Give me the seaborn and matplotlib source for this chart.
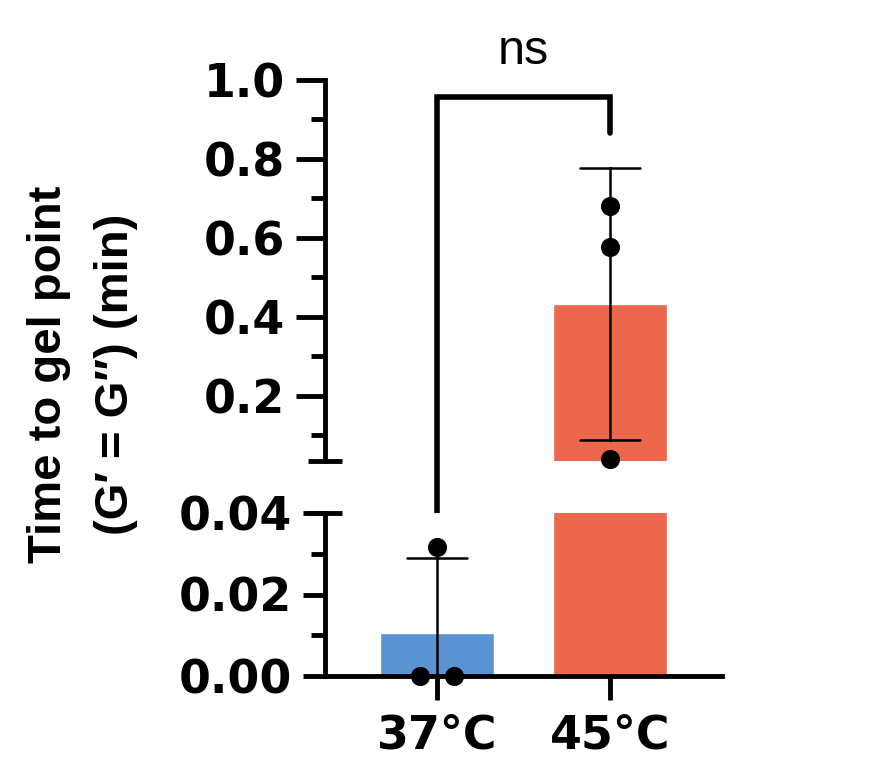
import numpy as np
import pandas as pd
import matplotlib
matplotlib.use("Agg")
import matplotlib.pyplot as plt
import matplotlib.transforms as mtransforms
import seaborn as sns

# data
temps = ["37°C", "45°C"]
gel_37 = [0.0, 0.0, 0.0317]
gel_45 = [0.681, 0.577, 0.040]
bar_colors = ["#5B93D2", "#EC674B"]
upper_ticks = [0.2, 0.4, 0.6, 0.8, 1.0]
upper_minor = [0.1, 0.3, 0.5, 0.7, 0.9]
lower_ticks = [0.00, 0.02, 0.04]
lower_minor = [0.01, 0.03]
sig_label = "ns"
y_label = "Time to gel point\n(G\u2032 = G\u2033) (min)"

# axis break
upper_lim = (0.035, 1.0)
lower_lim = (0.0, 0.04)

df = pd.DataFrame({
    "temp": [temps[0]] * len(gel_37) + [temps[1]] * len(gel_45),
    "time": gel_37 + gel_45,
})

sns.set_style("ticks")
plt.rcParams["font.family"] = ["DejaVu Sans"]
plt.rcParams.update({
    "text.color": "black",
    "axes.edgecolor": "black",
    "axes.labelcolor": "black",
    "xtick.color": "black",
    "ytick.color": "black",
})

W, H = 871, 771
fig = plt.figure(figsize=(W / 100, H / 100), dpi=100)


def box(l, t, r, b):
    return [l / W, 1 - b / H, (r - l) / W, (b - t) / H]


ax_top = fig.add_axes(box(325, 80, 722, 461))
ax_bot = fig.add_axes(box(325, 513, 722, 676))


# spread duplicated values sideways, like a column scatter
def dot_positions(values, center, step=0.2):
    vals = np.asarray(values)
    xs = np.full(len(vals), float(center))
    for v in np.unique(vals):
        idx = np.where(vals == v)[0]
        if len(idx) > 1:
            xs[idx] = center + (np.arange(len(idx)) - (len(idx) - 1) / 2) * step
    return xs


dots = pd.DataFrame({
    "x": np.concatenate([dot_positions(gel_37, 0), dot_positions(gel_45, 1)]),
    "time": gel_37 + gel_45,
})

lw = 3.5
for ax, lim in [(ax_top, upper_lim), (ax_bot, lower_lim)]:
    sns.barplot(data=df, x="temp", y="time", hue="temp", order=temps,
                palette=bar_colors, saturation=1, width=0.66,
                errorbar="sd", capsize=0.35,
                err_kws={"color": "black", "linewidth": 1.8},
                legend=False, ax=ax)
    if ax is ax_top:
        sub = dots[dots["time"] >= upper_lim[0]]
    else:
        sub = dots[dots["time"] < upper_lim[0]]
    sns.scatterplot(data=sub, x="x", y="time", color="black", s=190,
                    linewidth=0, zorder=5, clip_on=False, ax=ax)
    ax.set_ylim(*lim)
    ax.set_xlim(-0.647, 1.647)
    ax.set_xlabel("")
    ax.set_ylabel("")
    ax.spines["top"].set_visible(False)
    ax.spines["right"].set_visible(False)
    ax.spines["left"].set_linewidth(lw)
    ax.spines["bottom"].set_linewidth(lw)
    # crossing tick at the break end
    end_y = lim[0] if ax is ax_top else lim[1]
    tr = mtransforms.blended_transform_factory(ax.transAxes, ax.transData)
    ax.plot([-0.044, 0.044], [end_y, end_y], color="black", lw=lw,
            solid_capstyle="butt", transform=tr, clip_on=False, zorder=6)

# upper segment
ax_top.spines["bottom"].set_visible(False)
ax_top.tick_params(axis="x", bottom=False, labelbottom=False)
ax_top.set_yticks(upper_ticks)
ax_top.set_yticklabels([f"{t:.1f}" for t in upper_ticks])
ax_top.set_yticks(upper_minor, minor=True)
ax_top.tick_params(axis="y", which="major", length=21, width=lw, pad=8,
                   labelsize=33)
ax_top.tick_params(axis="y", which="minor", length=10, width=lw)

# lower segment
ax_bot.set_yticks(lower_ticks)
ax_bot.set_yticklabels([f"{t:.2f}" for t in lower_ticks])
ax_bot.set_yticks(lower_minor, minor=True)
ax_bot.tick_params(axis="y", which="major", length=16, width=lw, pad=8,
                   labelsize=33)
ax_bot.tick_params(axis="y", which="minor", length=10, width=lw)
ax_bot.tick_params(axis="x", length=17, width=lw, pad=10, labelsize=33)
for lab in ax_top.get_yticklabels() + ax_bot.get_yticklabels() + ax_bot.get_xticklabels():
    lab.set_fontweight("bold")

# significance bracket from the 37°C column up to above 45°C
fig.canvas.draw()
bot_top_disp = ax_bot.transData.transform((0, lower_lim[1]))
leg_low = ax_top.transData.inverted().transform(bot_top_disp)[1]
bracket_top = 0.957
bracket_drop = 0.866
ax_top.plot([0, 0, 1, 1], [leg_low, bracket_top, bracket_top, bracket_drop],
            color="black", lw=4.0, solid_joinstyle="miter",
            solid_capstyle="round", clip_on=False, zorder=6)
ax_top.text(0.5, 1.04, sig_label, ha="center", va="baseline", fontsize=35,
            family=["Liberation Sans", "DejaVu Sans"], fontweight="normal",
            clip_on=False)

fig.text(0.0947, 0.514, y_label, rotation=90, ha="center", va="center",
         fontsize=34, family=["Liberation Sans", "DejaVu Sans"],
         fontweight="bold", linespacing=1.66, multialignment="center")

fig.savefig("out.png", dpi=100)
